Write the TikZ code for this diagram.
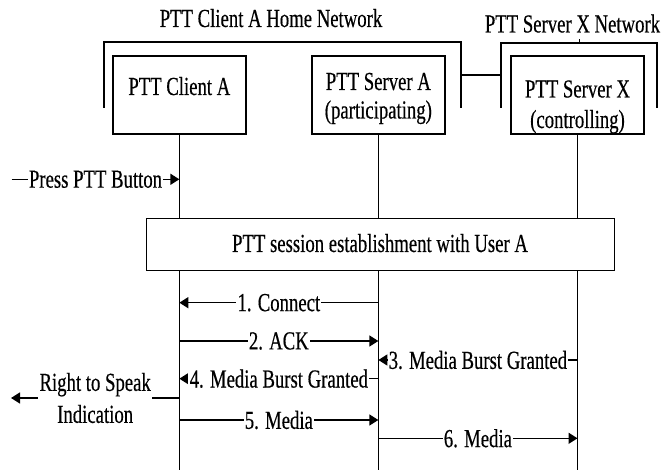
\documentclass[tikz,border=0pt]{standalone}
\usepackage{fontspec}
\setmainfont{Liberation Serif}[FakeStretch=0.72, FakeBold=0.4]
\usetikzlibrary{arrows.meta}
\begin{document}
\begin{tikzpicture}[x=1pt,y=-1pt,
  txt/.style={font=\fontsize{26}{30}\selectfont, inner sep=0pt},
  entity/.style={draw, line width=1.8pt, minimum width=133.3pt, minimum height=78pt, inner sep=0pt},
  bracket/.style={line width=2pt},
  life/.style={line width=1pt},
  msg/.style={line width=1.5pt, -{Triangle[length=9pt,width=11pt]}},
  lbl/.style={txt, fill=white, inner xsep=1.2pt, inner ysep=1pt}]
\useasboundingbox (0,0) rectangle (661,470);

% network titles and brackets
\node[txt, anchor=base] (tHome) at (271,27) {PTT Client A Home Network};
\node[txt, anchor=base] (tXnet) at (572.5,32.5) {PTT Server X Network};
\draw[bracket] (104,108) -- (104,42.5) -- (461,42.5) -- (461,108);
\draw[bracket] (501,108) -- (501,42.7) -- (656.7,42.7) -- (656.7,108);
\coordinate (tick) at (579,42.7);
\draw[line width=0.8pt] (tick) -- ++(0,-4);
\coordinate (brA) at (461,75);
\coordinate (brX) at (501,75);
\draw[bracket] (brA) -- (brX);

% entities
\node[entity] (client) at (179.35,95) {};
\node[entity] (srvA) at (378.35,95) {};
\node[entity] (srvX) at (577.5,95) {};
\node[txt, anchor=base] (tClient) at (179.35,95) {PTT Client A};
\node[txt, anchor=base] (tA1) at (378.35,90) {PTT Server A};
\node[txt, anchor=base] (tA2) at (378.35,118.5) {(participating)};
\node[txt, anchor=base] (tX1) at (577.5,97.5) {PTT Server X};
\node[txt, anchor=base] (tX2) at (577.5,128) {(controlling)};

% lifelines
\coordinate (cEnd) at (179.35,470);
\coordinate (aEnd) at (378.35,470);
\coordinate (xEnd) at (577.5,470);
\draw[life] (client.south) -- (cEnd);
\draw[life] (srvA.south) -- (aEnd);
\draw[life] (srvX.south) -- (xEnd);

% session establishment
\node[draw, line width=1pt, fill=white, minimum width=468pt, minimum height=52pt, inner sep=0pt] (sess) at (380,245) {};
\node[txt, anchor=base] (sessT) at (380,252) {PTT session establishment with User A};

% messages
\coordinate (press) at (11.7,179.3);
\draw[msg] (press) -- (client.south |- press) node[lbl, midway] (lPress) {Press PTT Button};

\coordinate (m1) at (0,302.7);
\draw[msg] (srvA.south |- m1) -- (client.south |- m1) node[lbl, midway] (l1) {1. Connect};
\coordinate (m2) at (0,341);
\draw[msg] (client.south |- m2) -- (srvA.south |- m2) node[lbl, midway] (l2) {2. ACK};
\coordinate (m3) at (0,360);
\draw[msg] (srvX.south |- m3) -- (srvA.south |- m3) node[lbl, midway] (l3) {3. Media Burst Granted};
\coordinate (m4) at (0,378.7);
\draw[msg] (srvA.south |- m4) -- (client.south |- m4) node[lbl, midway] (l4) {4. Media Burst Granted};
\coordinate (rts) at (11,398);
\draw[msg] (client.south |- rts) -- (rts) node[lbl, midway, align=center, font=\fontsize{26}{32}\selectfont] (lRts) {Right to Speak\\Indication};
\coordinate (m5) at (0,420);
\draw[msg] (client.south |- m5) -- (srvA.south |- m5) node[lbl, midway] (l5) {5. Media};
\coordinate (m6) at (0,438.3);
\draw[msg] (srvA.south |- m6) -- (srvX.south |- m6) node[lbl, midway] (l6) {6. Media};
\end{tikzpicture}
\end{document}
